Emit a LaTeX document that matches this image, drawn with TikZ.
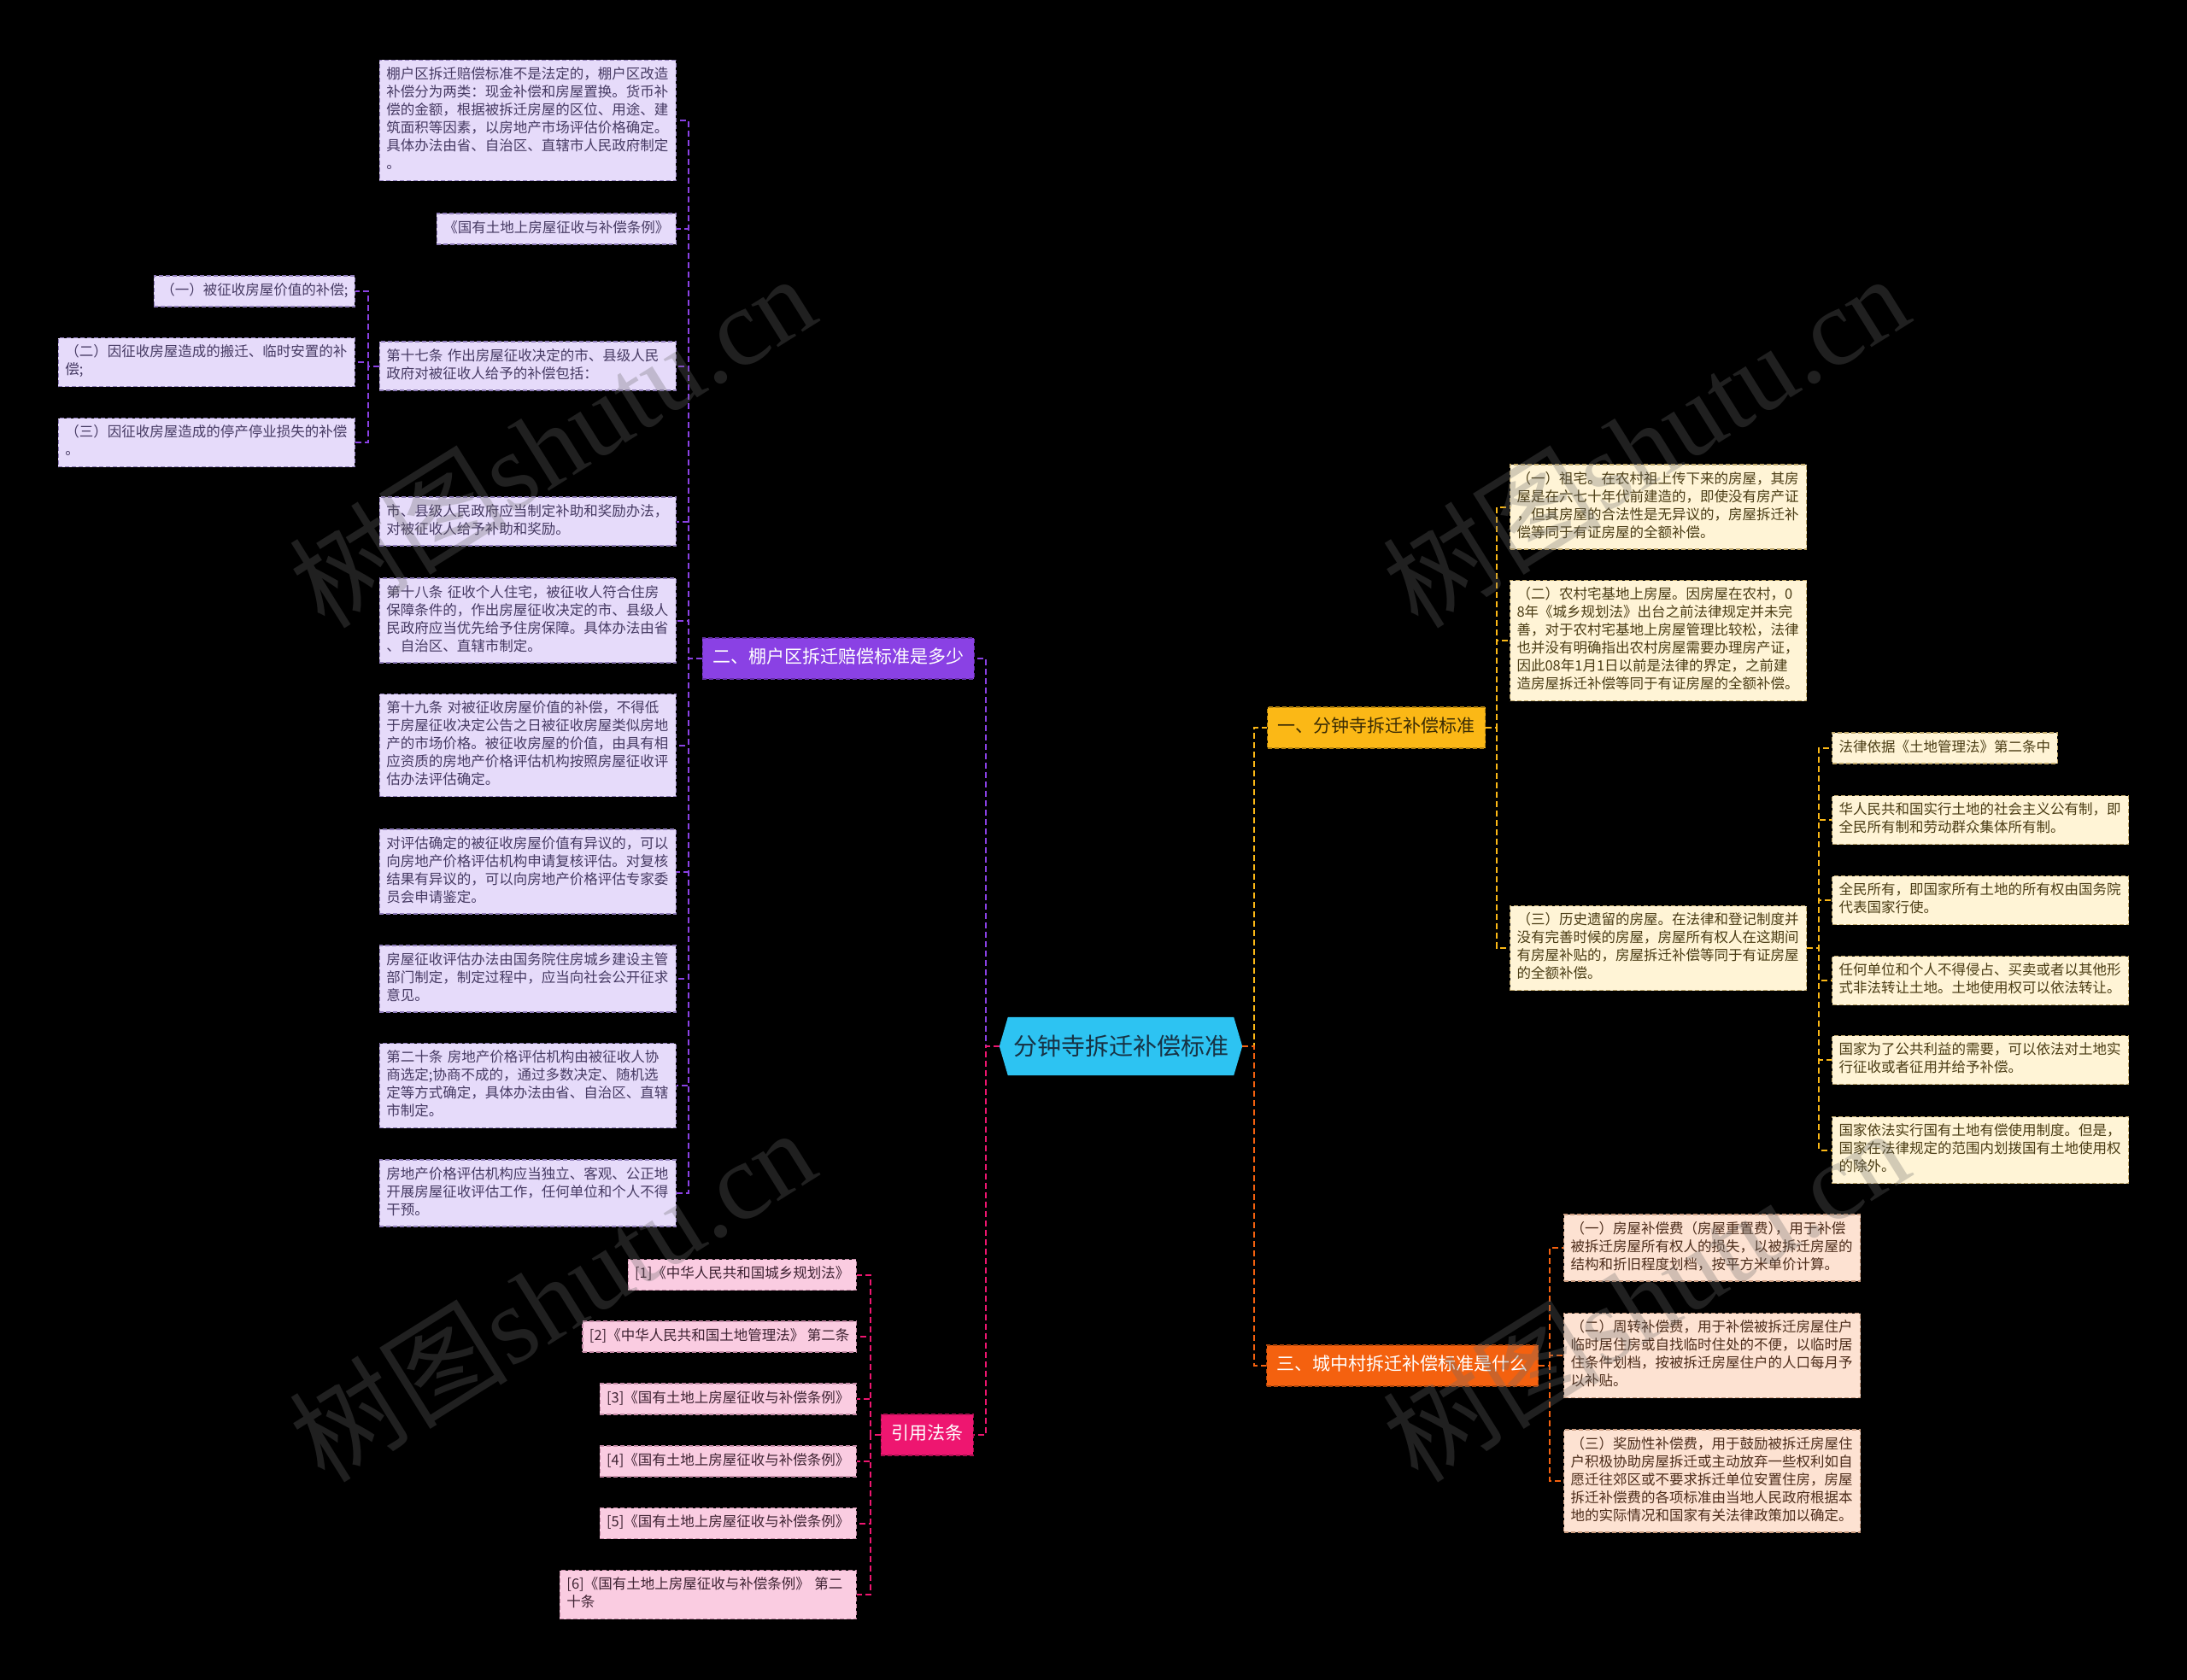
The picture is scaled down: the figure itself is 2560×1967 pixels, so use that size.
\documentclass[tikz,border=0pt]{standalone}
\usepackage{fontspec}
\setmainfont{Noto Sans CJK SC}
\newfontfamily\wmfont{Liberation Serif}
\usetikzlibrary{backgrounds,calc}
\definecolor{purpleB}{HTML}{8A41E4}
\definecolor{lavfill}{HTML}{E6DBFA}
\definecolor{lavline}{HTML}{8E7CB8}
\definecolor{lavtext}{HTML}{463A63}
\definecolor{yellowB}{HTML}{FBB816}
\definecolor{yellowtext}{HTML}{3A2C05}
\definecolor{creamfill}{HTML}{FFF4D6}
\definecolor{creamline}{HTML}{BFA76A}
\definecolor{creamtext}{HTML}{4A3C14}
\definecolor{orangeB}{HTML}{F4610F}
\definecolor{peachfill}{HTML}{FDE2D2}
\definecolor{peachline}{HTML}{C89A7E}
\definecolor{peachtext}{HTML}{4C2C1A}
\definecolor{pinkB}{HTML}{EE1670}
\definecolor{pinkfill}{HTML}{FACCE1}
\definecolor{pinkline}{HTML}{C48AA6}
\definecolor{pinktext}{HTML}{3E2232}
\definecolor{rootfill}{HTML}{2DC3F2}
\definecolor{roottext}{HTML}{173244}
\definecolor{wmgray}{HTML}{6A6A6A}
\begin{document}
\begin{tikzpicture}[x=1pt,y=-1pt,
  leaf/.style={rectangle, inner xsep=8pt, inner ysep=7.5pt, font=\fontsize{16.5}{21}\selectfont, align=left, execute at begin node=\strut, execute at end node=\strut, dash pattern=on 5pt off 3pt, line width=1.1pt},
  wide/.style={text width=331pt},
  pleaf/.style={leaf, fill=lavfill, draw=lavline, text=lavtext},
  yleaf/.style={leaf, fill=creamfill, draw=creamline, text=creamtext},
  oleaf/.style={leaf, fill=peachfill, draw=peachline, text=peachtext},
  kleaf/.style={leaf, fill=pinkfill, draw=pinkline, text=pinktext},
  branch/.style={rectangle, inner xsep=12pt, inner ysep=11pt, font=\fontsize{21}{26}\selectfont, execute at begin node=\strut, dash pattern=on 5pt off 3pt, line width=1.1pt},
  rootbox/.style={rectangle, minimum width=264pt, minimum height=68pt, inner sep=0pt, font=\fontsize{28}{34}\selectfont, text=roottext},
  con/.style={line width=2pt, dash pattern=on 7pt off 4pt},
  wm/.style={text=wmgray, text opacity=0.3, rotate=32, font=\fontsize{128}{128}\selectfont, inner sep=0pt}
]
\begin{pgfonlayer}{background}
\fill[black] (0,0) rectangle (2560,1967);
\end{pgfonlayer}
\useasboundingbox (0,0) rectangle (2560,1967);

% root
\node[rootbox] (root) at (1312,1225) {分钟寺拆迁补偿标准};
\coordinate (rootL) at ($(root.west)+(-10,0)$);
\coordinate (rootR) at ($(root.east)+(10,0)$);
\begin{pgfonlayer}{background}
\fill[rootfill] (rootL) -- (root.north west) -- (root.north east) -- (rootR) -- (root.south east) -- (root.south west) -- cycle;
\end{pgfonlayer}

% branches
\node[branch, fill=purpleB, draw=purpleB!70!black, text=white, anchor=east] (b2) at (1141,771) {二、棚户区拆迁赔偿标准是多少};
\node[branch, fill=pinkB, draw=pinkB!70!black, text=white, anchor=east] (b4) at (1140,1680) {引用法条};
\node[branch, fill=yellowB, draw=yellowB!70!black, text=yellowtext, anchor=west] (b1) at (1483,852) {一、分钟寺拆迁补偿标准};
\node[branch, fill=orangeB, draw=orangeB!70!black, text=white, anchor=west] (b3) at (1482,1599) {三、城中村拆迁补偿标准是什么};

% main connectors
\coordinate (lv) at (1154,0);
\coordinate (rv) at (1468,0);
\draw[con, purpleB] (rootL) -- (rootL -| lv) |- (b2.east);
\draw[con, pinkB] (rootL) -- (rootL -| lv) |- (b4.east);
\draw[con, yellowB] (rootR) -- (rootR -| rv) |- (b1.west);
\draw[con, orangeB] (rootR) -- (rootR -| rv) |- (b3.west);

% branch two leaves
\node[pleaf, wide, anchor=east] (p1) at (792,141) {棚户区拆迁赔偿标准不是法定的，棚户区改造\\补偿分为两类：现金补偿和房屋置换。货币补\\偿的金额，根据被拆迁房屋的区位、用途、建\\筑面积等因素，以房地产市场评估价格确定。\\具体办法由省、自治区、直辖市人民政府制定\\。};
\node[pleaf, anchor=east] (p2) at (792,268) {《国有土地上房屋征收与补偿条例》};
\node[pleaf, wide, anchor=east] (p3) at (792,428.5) {第十七条 作出房屋征收决定的市、县级人民\\政府对被征收人给予的补偿包括：};
\node[pleaf, wide, anchor=east] (p4) at (792,610.5) {市、县级人民政府应当制定补助和奖励办法，\\对被征收人给予补助和奖励。};
\node[pleaf, wide, anchor=east] (p5) at (792,726.5) {第十八条 征收个人住宅，被征收人符合住房\\保障条件的，作出房屋征收决定的市、县级人\\民政府应当优先给予住房保障。具体办法由省\\、自治区、直辖市制定。};
\node[pleaf, wide, anchor=east] (p6) at (792,872.5) {第十九条 对被征收房屋价值的补偿，不得低\\于房屋征收决定公告之日被征收房屋类似房地\\产的市场价格。被征收房屋的价值，由具有相\\应资质的房地产价格评估机构按照房屋征收评\\估办法评估确定。};
\node[pleaf, wide, anchor=east] (p7) at (792,1020.5) {对评估确定的被征收房屋价值有异议的，可以\\向房地产价格评估机构申请复核评估。对复核\\结果有异议的，可以向房地产价格评估专家委\\员会申请鉴定。};
\node[pleaf, wide, anchor=east] (p8) at (792,1146) {房屋征收评估办法由国务院住房城乡建设主管\\部门制定，制定过程中，应当向社会公开征求\\意见。};
\node[pleaf, wide, anchor=east] (p9) at (792,1271) {第二十条 房地产价格评估机构由被征收人协\\商选定;协商不成的，通过多数决定、随机选\\定等方式确定，具体办法由省、自治区、直辖\\市制定。};
\node[pleaf, wide, anchor=east] (p10) at (792,1397) {房地产价格评估机构应当独立、客观、公正地\\开展房屋征收评估工作，任何单位和个人不得\\干预。};

\coordinate (v2) at (806,0);
\foreach \n in {p1,p2,p3,p4,p5,p6,p7,p8,p9,p10}
  \draw[con, purpleB] (b2.west) -- (b2.west -| v2) |- (\n.east);

% sub leaves of p3
\node[pleaf, anchor=east] (s1) at (416,341) {（一）被征收房屋价值的补偿;};
\node[pleaf, wide, anchor=east] (s2) at (416,424) {（二）因征收房屋造成的搬迁、临时安置的补\\偿;};
\node[pleaf, wide, anchor=east] (s3) at (416,518) {（三）因征收房屋造成的停产停业损失的补偿\\。};
\coordinate (v17) at (431,0);
\foreach \n in {s1,s2,s3}
  \draw[con, purpleB] (p3.west) -- (p3.west -| v17) |- (\n.east);

% citations
\node[kleaf, anchor=east] (r1) at (1003,1492.5) {[1]《中华人民共和国城乡规划法》};
\node[kleaf, anchor=east] (r2) at (1003,1565) {[2]《中华人民共和国土地管理法》 第二条};
\node[kleaf, anchor=east] (r3) at (1003,1638) {[3]《国有土地上房屋征收与补偿条例》};
\node[kleaf, anchor=east] (r4) at (1003,1711) {[4]《国有土地上房屋征收与补偿条例》};
\node[kleaf, anchor=east] (r5) at (1003,1783.5) {[5]《国有土地上房屋征收与补偿条例》};
\node[kleaf, wide, anchor=east] (r6) at (1003,1867) {[6]《国有土地上房屋征收与补偿条例》 第二\\十条};
\coordinate (v4) at (1019,0);
\foreach \n in {r1,r2,r3,r4,r5,r6}
  \draw[con, pinkB] (b4.west) -- (b4.west -| v4) |- (\n.east);

% branch one leaves
\node[yleaf, wide, anchor=west] (y1) at (1767,593.5) {（一）祖宅。在农村祖上传下来的房屋，其房\\屋是在六七十年代前建造的，即使没有房产证\\，但其房屋的合法性是无异议的，房屋拆迁补\\偿等同于有证房屋的全额补偿。};
\node[yleaf, wide, anchor=west] (y2) at (1767,750) {（二）农村宅基地上房屋。因房屋在农村，0\\8年《城乡规划法》出台之前法律规定并未完\\善，对于农村宅基地上房屋管理比较松，法律\\也并没有明确指出农村房屋需要办理房产证，\\因此08年1月1日以前是法律的界定，之前建\\造房屋拆迁补偿等同于有证房屋的全额补偿。};
\node[yleaf, wide, anchor=west] (y3) at (1767,1110) {（三）历史遗留的房屋。在法律和登记制度并\\没有完善时候的房屋，房屋所有权人在这期间\\有房屋补贴的，房屋拆迁补偿等同于有证房屋\\的全额补偿。};
\coordinate (v1) at (1752,0);
\foreach \n in {y1,y2,y3}
  \draw[con, yellowB] (b1.east) -- (b1.east -| v1) |- (\n.west);

% leaves of y3
\node[yleaf, anchor=west] (z1) at (2144,876) {法律依据《土地管理法》第二条中};
\node[yleaf, wide, anchor=west] (z2) at (2144,960) {华人民共和国实行土地的社会主义公有制，即\\全民所有制和劳动群众集体所有制。};
\node[yleaf, wide, anchor=west] (z3) at (2144,1054) {全民所有，即国家所有土地的所有权由国务院\\代表国家行使。};
\node[yleaf, wide, anchor=west] (z4) at (2144,1148) {任何单位和个人不得侵占、买卖或者以其他形\\式非法转让土地。土地使用权可以依法转让。};
\node[yleaf, wide, anchor=west] (z5) at (2144,1241) {国家为了公共利益的需要，可以依法对土地实\\行征收或者征用并给予补偿。};
\node[yleaf, wide, anchor=west] (z6) at (2144,1346.5) {国家依法实行国有土地有偿使用制度。但是，\\国家在法律规定的范围内划拨国有土地使用权\\的除外。};
\coordinate (vz) at (2129,0);
\foreach \n in {z1,z2,z3,z4,z5,z6}
  \draw[con, yellowB] (y3.east) -- (y3.east -| vz) |- (\n.west);

% branch three leaves
\node[oleaf, wide, anchor=west] (o1) at (1830,1461) {（一）房屋补偿费（房屋重置费）\kern-.5em，用于补偿\\被拆迁房屋所有权人的损失，以被拆迁房屋的\\结构和折旧程度划档，按平方米单价计算。};
\node[oleaf, wide, anchor=west] (o2) at (1830,1587) {（二）周转补偿费，用于补偿被拆迁房屋住户\\临时居住房或自找临时住处的不便，以临时居\\住条件划档，按被拆迁房屋住户的人口每月予\\以补贴。};
\node[oleaf, wide, anchor=west] (o3) at (1830,1734) {（三）奖励性补偿费，用于鼓励被拆迁房屋住\\户积极协助房屋拆迁或主动放弃一些权利如自\\愿迁往郊区或不要求拆迁单位安置住房，房屋\\拆迁补偿费的各项标准由当地人民政府根据本\\地的实际情况和国家有关法律政策加以确定。};
\coordinate (v3) at (1814,0);
\foreach \n in {o1,o2,o3}
  \draw[con, orangeB] (b3.east) -- (b3.east -| v3) |- (\n.west);

% watermarks
\node[wm] (wm1) at (646,515) {树图{\wmfont shutu.cn}};
\node[wm] (wm2) at (1926,515) {树图{\wmfont shutu.cn}};
\node[wm] (wm3) at (646,1515) {树图{\wmfont shutu.cn}};
\node[wm] (wm4) at (1926,1515) {树图{\wmfont shutu.cn}};
\end{tikzpicture}
\end{document}
